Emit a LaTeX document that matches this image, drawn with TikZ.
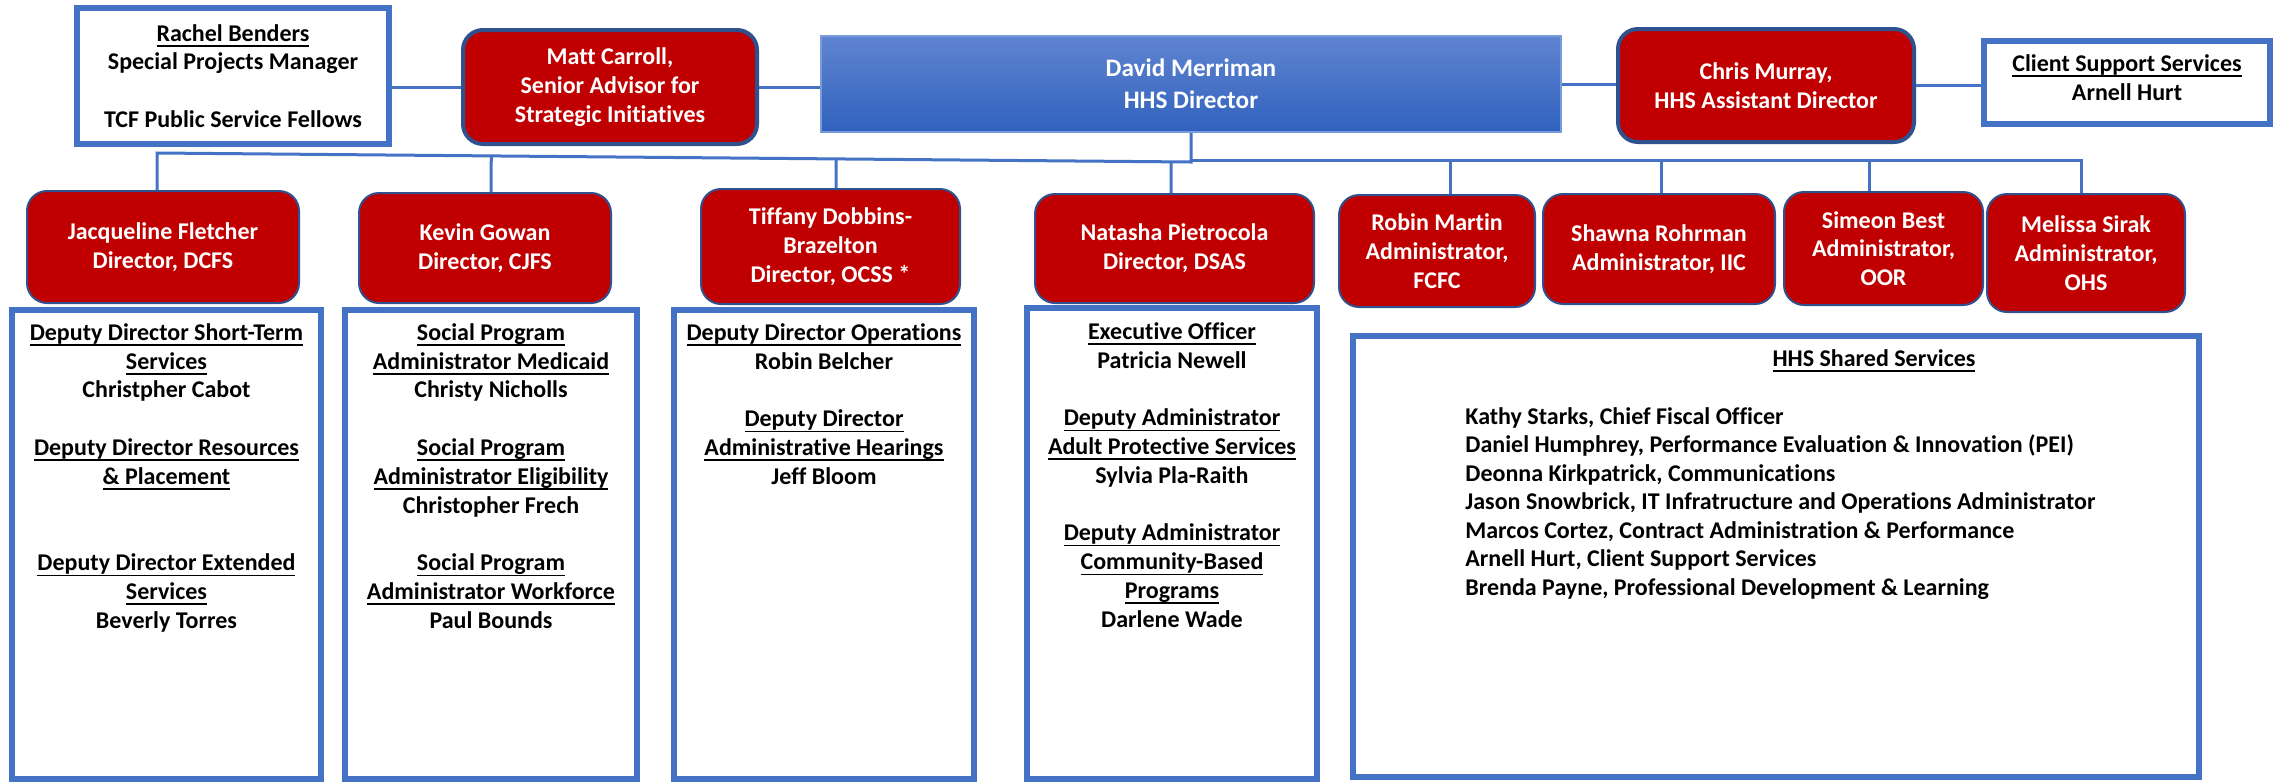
\documentclass[tikz,border=0pt]{standalone}
\usepackage{fontspec}
\setmainfont{Carlito}[Ligatures=NoCommon]
\usetikzlibrary{calc}
\newsavebox\ulbox
\newcommand\uln[1]{\sbox\ulbox{#1}\rlap{\rule[-2.8pt]{\wd\ulbox}{0.8pt}}\usebox\ulbox}
\definecolor{hred}{HTML}{C00000}
\definecolor{bordb}{HTML}{2F528F}
\definecolor{lblue}{HTML}{4472C4}
\definecolor{dtop}{RGB}{96,132,208}
\definecolor{dbot}{RGB}{48,98,190}
\definecolor{dline}{RGB}{120,155,220}
\newcommand\bx[7]{\node[#6, minimum width={(#4-#2)*0.5pt}, minimum height={(#5-#3)*0.5pt}, inner sep=0pt] (#1) at ({(#2+#4)/2},{(#3+#5)/2}) {#7};}
\begin{document}
\begin{tikzpicture}[x=0.5pt,y=-0.5pt,
  basefont/.style={font={\fontsize{12}{14.4}\selectfont\bfseries}},
  rbox/.style={basefont, rounded corners=10pt, fill=hred, draw=bordb, line width=1pt, text=white, align=center},
  wbox/.style={basefont, fill=white, draw=lblue, line width=3pt, text=black, align=center},
  dbox/.style={font={\fontsize{12.6}{16}\selectfont\bfseries}, top color=dtop, bottom color=dbot, draw=dline, line width=1.2pt, text=white, align=center},
  wtext/.style={basefont, text=black, align=center, anchor=north, inner sep=0pt},
  conn/.style={draw=lblue, line width=1.5pt}]
\useasboundingbox (0,0) rectangle (2277,783);
\fill[white] (0,0) rectangle (2277,783);

% lower white boxes
\bx{DCFSb}{12}{310}{321}{779}{wbox}{}
\bx{CJFSb}{345}{310}{637}{779}{wbox}{}
\bx{OCSSb}{674}{310}{974}{779}{wbox}{}
\bx{DSASb}{1027}{308}{1317}{779}{wbox}{}
\bx{HHSb}{1353}{336}{2199}{777}{wbox}{}

% top row
\bx{Rach}{77}{8}{389}{144}{wbox}{\uln{Rachel Benders}\\Special Projects Manager\\[14.4pt]TCF Public Service Fellows}
\bx{Matt}{463}{30}{757}{144}{rbox, line width=2pt}{Matt Carroll,\\Senior Advisor for\\Strategic Initiatives}
\bx{Dav}{821}{36}{1561}{132}{dbox}{David Merriman\\HHS Director}
\bx{Chr}{1618}{29}{1914}{142}{rbox, line width=2pt}{Chris Murray,\\HHS Assistant Director}
\bx{CSS}{1984}{41}{2270}{124}{wbox}{}
\node[wtext, anchor=center] (CSSt) at (2127,77.5) {\uln{Client Support Services}\\Arnell Hurt};

% second row
\bx{Jac}{27}{191}{299}{303}{rbox}{Jacqueline Fletcher\\Director, DCFS}
\bx{Kev}{359}{193}{611}{303}{rbox}{Kevin Gowan\\Director, CJFS}
\bx{Tif}{701}{189}{960}{304}{rbox}{Tiffany Dobbins-\\Brazelton\\Director, OCSS *}
\bx{Nat}{1035}{194}{1314}{303}{rbox}{Natasha Pietrocola\\Director, DSAS}
\bx{Rob}{1339}{195}{1535}{307}{rbox}{Robin Martin\\Administrator,\\FCFC}
\bx{Sha}{1543}{194}{1775}{304}{rbox}{Shawna Rohrman\\Administrator, IIC}
\bx{Sim}{1784}{192}{1983}{305}{rbox}{Simeon Best\\Administrator,\\OOR}
\bx{Mel}{1987}{194}{2185}{312}{rbox}{Melissa Sirak\\Administrator,\\OHS}

% texts in white boxes
\node[wtext] (DCFSt) at (166.5,323) {\uln{Deputy Director Short-Term}\\\uln{Services}\\Christpher Cabot\\[14.4pt]\uln{Deputy Director Resources}\\\uln{\& Placement}\\[28.8pt]\uln{Deputy Director Extended}\\\uln{Services}\\Beverly Torres};
\node[wtext] (CJFSt) at (491,323) {\uln{Social Program}\\\uln{Administrator Medicaid}\\Christy Nicholls\\[14.4pt]\uln{Social Program}\\\uln{Administrator Eligibility}\\Christopher Frech\\[14.4pt]\uln{Social Program}\\\uln{Administrator Workforce}\\Paul Bounds};
\node[wtext] (OCSSt) at (824,323) {\uln{Deputy Director Operations}\\Robin Belcher\\[14.4pt]\uln{Deputy Director}\\\uln{Administrative Hearings}\\Jeff Bloom};
\node[wtext] (DSASt) at (1172,322) {\uln{Executive Officer}\\Patricia Newell\\[14.4pt]\uln{Deputy Administrator}\\\uln{Adult Protective Services}\\Sylvia Pla-Raith\\[14.4pt]\uln{Deputy Administrator}\\\uln{Community-Based}\\\uln{Programs}\\Darlene Wade};
\node[wtext, anchor=base] (HHSt) at (1874,366) {\uln{HHS Shared Services}};
\node[wtext, anchor=north west, align=left, font={\fontsize{12}{14.25}\selectfont\bfseries}] (HHSl) at (1465,407) {Kathy Starks, Chief Fiscal Officer\\Daniel Humphrey, Performance Evaluation \& Innovation (PEI)\\Deonna Kirkpatrick, Communications\\Jason Snowbrick, IT Infratructure and Operations Administrator\\Marcos Cortez, Contract Administration \& Performance\\Arnell Hurt, Client Support Services\\Brenda Payne, Professional Development \& Learning};

% connectors top row
\draw[conn] (Matt.west) -- (Rach.east |- Matt.west);
\draw[conn] (Matt.east) -- (Dav.west |- Matt.east);
\draw[conn] (Dav.east) -- (Chr.west |- Dav.east);
\draw[conn] (Chr.east) -- (CSS.west |- Chr.east);

% bus
\coordinate (busA) at (157,153);
\coordinate (busB) at (1191,162);
\coordinate (busC) at (2081,160);
\draw[conn] (Dav.south) -- (busB) -- (busA) -- (busA |- Jac.north);
\draw[conn] ([xshift=3pt]Kev.north) -- ($(busA)!([xshift=3pt]Kev.north)!(busB)$);
\draw[conn] ([xshift=2.75pt]Tif.north) -- ($(busA)!([xshift=2.75pt]Tif.north)!(busB)$);
\draw[conn] ([xshift=-1.75pt]Nat.north) -- ($(busA)!([xshift=-1.75pt]Nat.north)!(busB)$);
\draw[conn] (Dav.south |- busC) -- (busC) -- (busC |- Mel.north);
\draw[conn] ([xshift=6.5pt]Rob.north) -- ([xshift=6.5pt]Rob.north |- busC);
\draw[conn] ([xshift=1pt]Sha.north) -- ([xshift=1pt]Sha.north |- busC);
\draw[conn] ([xshift=-7.25pt]Sim.north) -- ([xshift=-7.25pt]Sim.north |- busC);
\end{tikzpicture}
\end{document}
